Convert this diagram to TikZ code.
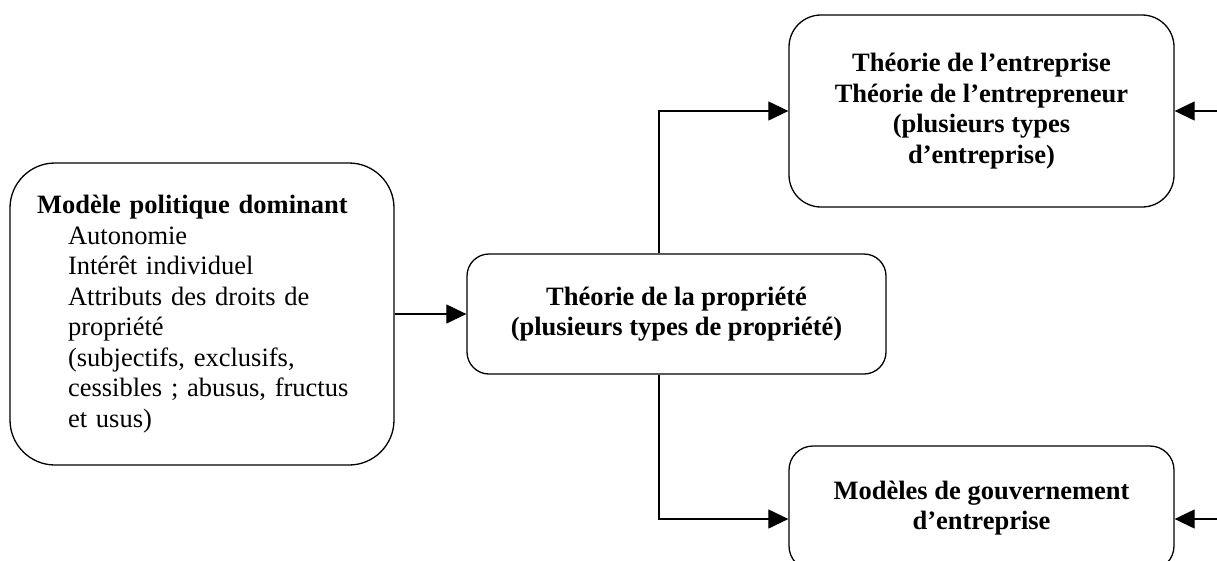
\documentclass[tikz,border=0pt]{standalone}
\usepackage{fontspec}
\setmainfont{Liberation Serif}
\usetikzlibrary{arrows.meta,positioning}

\newcommand{\boxfont}{\fontsize{26.5}{30.5}\selectfont}
\newcommand{\polindent}{\hspace*{31pt}}
\tikzset{
  box/.style={draw=black, line width=1.3pt, align=center, font=\boxfont\bfseries},
  arr/.style={line width=1.2pt, -{Triangle[length=20pt,width=19pt]}}
}

\begin{document}
\begin{tikzpicture}[x=1pt, y=-1pt]
\useasboundingbox (0,0) rectangle (1217,560);
\clip (0,0) rectangle (1217,560);
% Political model (left)
\node[box, font=\boxfont, align=left, text width=330pt, inner xsep=27pt, minimum height=302pt, rounded corners=45pt] (pol) at (202,314) {\textbf{Modèle politique dominant}\\
\polindent Autonomie\\
\polindent Intérêt individuel\\
\polindent Attributs des droits de\\
\polindent propriété\\
\polindent (subjectifs, exclusifs,\\
\polindent cessibles ; abusus, fructus\\
\polindent et usus)};
% Property theory
\node[box, minimum width=419pt, minimum height=120pt, rounded corners=22pt] (prop) at (676.5,314) {Théorie de la propriété\\(plusieurs types de propriété)};
% Firm theory
\node[box, minimum width=385pt, minimum height=192pt, rounded corners=32pt] (ent) at (981.5,111) {Théorie de l’entreprise\\Théorie de l’entrepreneur\\(plusieurs types\\d’entreprise)};
% Governance models
\node[box, minimum width=385pt, minimum height=124pt, rounded corners=24pt] (gouv) at (981.5,508) {Modèles de gouvernement\\d’entreprise};
% Connectors
\coordinate (fork) at (659,314);
\coordinate (entin) at (1217,111);
\coordinate (gouvin) at (1217,519);
\draw[arr] (pol.east) -- (prop.west);
\draw[arr] (prop.north -| fork) |- (ent.west);
\draw[arr] (prop.south -| fork) |- (gouv.west |- gouvin);
\draw[arr] (entin) -- (ent.east);
\draw[arr] (gouvin) -- (gouvin -| gouv.east);
\end{tikzpicture}
\end{document}
